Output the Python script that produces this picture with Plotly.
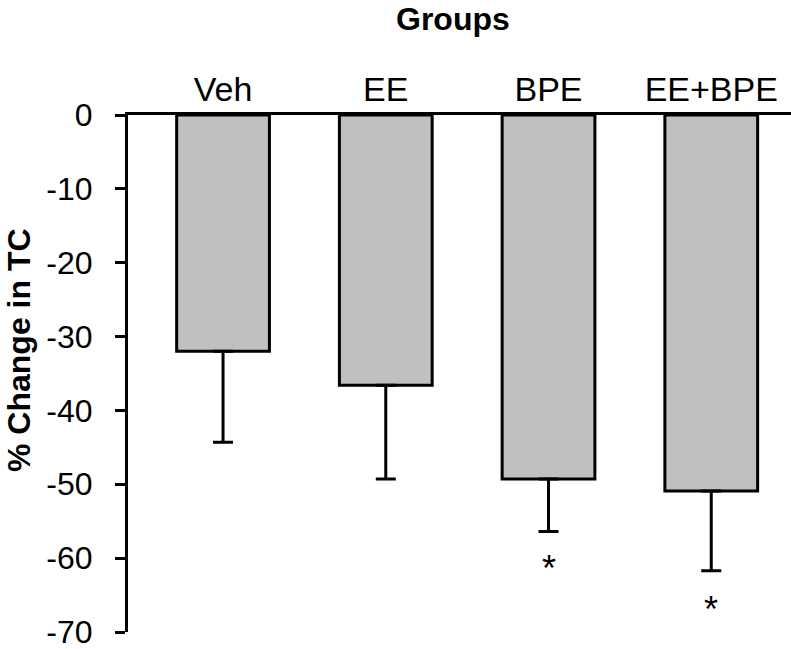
import plotly.graph_objects as go

groups = ["Veh", "EE", "BPE", "EE+BPE"]
pct_change = [-32.0, -36.6, -49.3, -50.9]
err_minus = [12.3, 12.7, 7.1, 10.8]
sig_marks = ["", "", "*", "*"]
sig_y = [None, None, -61.4, -67.0]
y_tickvals = [0, -10, -20, -30, -40, -50, -60, -70]
y_ticktext = ["0", "-10", "-20", "-30", "-40", "-50", "-60", "-70"]

FONT = "Arial, Liberation Sans, sans-serif"

FIG_W, FIG_H = 791, 649
L, T, B = 128, 115, 17
H_PLOT = FIG_H - T - B
W_PLOT = FIG_W - L

fig = go.Figure()
fig.add_trace(go.Bar(
    x=groups,
    y=pct_change,
    width=0.57,
    marker=dict(color="#C0C0C0", line=dict(color="black", width=3)),
    error_y=dict(type="data", symmetric=False, array=[0] * len(groups),
                 arrayminus=err_minus, color="black", thickness=3, width=10),
    showlegend=False,
))

annotations = []
for g, m, yy in zip(groups, sig_marks, sig_y):
    if m:
        annotations.append(dict(x=g, y=yy, xref="x", yref="y", text=m,
                                showarrow=False, yanchor="middle",
                                font=dict(family=FONT, size=36, color="black")))

annotations.append(dict(x=(453 - L) / W_PLOT, y=1 + (T - 19) / H_PLOT,
                        xref="paper", yref="paper", text="<b>Groups</b>",
                        showarrow=False, xanchor="center", yanchor="middle",
                        borderpad=0,
                        font=dict(family=FONT, size=32, color="black")))
annotations.append(dict(x=(19 - L) / W_PLOT, y=1 - (350 - T) / H_PLOT,
                        xref="paper", yref="paper", text="<b>% Change in TC</b>",
                        textangle=-90, showarrow=False, xanchor="center",
                        yanchor="middle", borderpad=0,
                        font=dict(family=FONT, size=32, color="black")))

fig.update_layout(
    width=FIG_W, height=FIG_H,
    margin=dict(l=L, r=0, t=T, b=B, autoexpand=False),
    paper_bgcolor="white", plot_bgcolor="white",
    annotations=annotations,
    xaxis=dict(side="top", type="category", range=[-0.584, 3.49],
               showline=True, linecolor="black", linewidth=3,
               ticks="", showgrid=False, zeroline=False,
               tickfont=dict(family=FONT, size=34, color="black"),
               ticklabelstandoff=-3),
    yaxis=dict(range=[-70, 0], autorange=False,
               tickmode="array", tickvals=y_tickvals, ticktext=y_ticktext,
               showline=True, linecolor="black", linewidth=3,
               ticks="outside", ticklen=10, tickwidth=3, tickcolor="black",
               showgrid=False, zeroline=False,
               tickfont=dict(family=FONT, size=32, color="black"),
               ticklabelstandoff=16, ticklabeloverflow="allow"),
)

fig.write_html("out.html",
               config={"displayModeBar": False},
               post_script="document.body.style.margin='0';document.body.style.overflow='hidden';")
